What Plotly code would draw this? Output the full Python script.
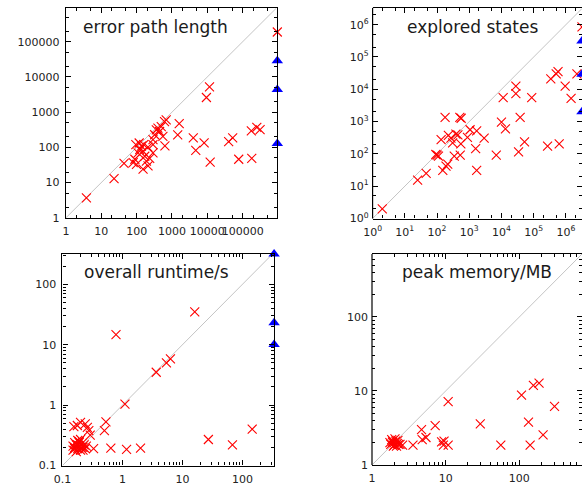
import plotly.graph_objects as go

# ---------------- data ----------------
# error path length (top-left)
epl_x = [3.8, 23, 44, 80, 89, 99, 110, 123, 137, 152, 170, 189, 210, 152, 234, 290,
         95, 118, 159, 210, 290, 323, 360, 400, 446, 497, 615, 553, 685, 290, 630,
         1450, 1600, 4000, 4700, 8100, 9400, 11500, 12000, 40000, 52000, 77000,
         175000, 180000, 250000, 310000]
epl_y = [3.7, 13, 35, 37, 46, 33, 70, 87, 108, 78, 56, 41, 30, 24, 49, 70,
         120, 133, 120, 101, 120, 228, 315, 350, 282, 390, 540, 205, 600, 165, 110,
         225, 470, 185, 82, 135, 2600, 5200, 38, 145, 185, 46,
         295, 49, 370, 320]
epl_timeout = 950000
epl_to_red = [188000]
epl_to_blue = [28500, 4400, 128]

# explored states (top-right)
es_x = [2, 25, 46, 92, 101, 111, 178, 510, 560, 134, 151, 190, 215, 270, 385, 305,
        550, 880, 343, 525, 1060, 1700, 1580, 1700, 2900, 225, 445, 6900, 10000,
        13300, 11300, 28000, 28000, 38000, 34000, 52000, 87000, 270000, 340000,
        500000, 570000, 620000, 950000, 1450000, 2200000]
es_y = [2, 15.5, 25, 96, 92, 86, 1360, 1360, 1270, 276, 31, 42, 48, 310, 410, 220,
        204, 325, 86, 92, 560, 520, 147, 31, 310, 375, 390, 92, 960,
        600, 5500, 12500, 7300, 1360, 116, 235, 5500, 173, 21000,
        30000, 35000, 204, 12600, 5200, 30000]
es_timeout = 3160000
es_to_red = [853000]
es_to_blue = [310000, 29000, 2020]

# overall runtime/s (bottom-left)
rt_x = [16, 0.78, 1.1, 3.65, 5.4, 6.3, 0.53, 0.50, 0.177, 0.20, 0.24, 0.26, 0.275, 0.29,
        0.15, 0.16, 0.17, 0.18, 0.19, 0.20, 0.21, 0.16, 0.18, 0.22, 0.17, 0.19, 0.23,
        0.15, 0.20, 0.24, 0.18, 0.21, 0.25, 0.16, 0.155, 0.19, 0.22,
        0.33, 0.64, 1.17, 2.0, 27, 68, 145]
rt_y = [35, 14.7, 1.04, 3.5, 5.0, 5.8, 0.53, 0.38, 0.46, 0.52, 0.49, 0.43, 0.38, 0.32,
        0.18, 0.20, 0.22, 0.19, 0.21, 0.18, 0.23, 0.24, 0.26, 0.20, 0.17, 0.24, 0.22,
        0.21, 0.27, 0.19, 0.22, 0.20, 0.21, 0.19, 0.44, 0.25, 0.18,
        0.19, 0.195, 0.185, 0.195, 0.27, 0.22, 0.40]
rt_timeout = 336
rt_to_blue = [316, 23.1, 10.1]

# peak memory/MB (bottom-right)
pm_x = [1.8, 1.9, 2.0, 2.1, 1.85, 2.2, 1.95, 2.05, 2.3, 1.75, 2.15, 1.9, 2.4, 2.0, 2.25,
        2.6, 3.6, 4.7, 4.8, 5.4, 7.2, 8.8, 9.3, 10.8, 9.5, 10.8, 29.5, 56,
        107, 155, 185, 133, 210, 140, 300]
pm_y = [1.9, 2.0, 1.85, 2.1, 2.2, 1.95, 1.8, 2.25, 1.9, 2.0, 1.8, 2.1, 1.9, 2.0, 2.15,
        1.85, 1.85, 3.0, 2.2, 2.35, 3.4, 2.05, 1.85, 1.85, 2.1, 7.2, 3.6, 1.85,
        8.8, 11.9, 12.8, 3.8, 2.55, 1.85, 6.2]
pm_timeout = 708
pm_to_red = [174]
pm_to_blue = [121, 26, 9.7]

# axis ranges (log10 units) and tick labels
epl_range = [[0, 5.98], [0, 5.95]]
es_range = [[0, 6.50], [0, 6.52]]
rt_range = [[-1, 2.527], [-1, 2.5]]
pm_range = [[0, 2.85], [0, 2.85]]

epl_ticks = [1, 10, 100, 1000, 10000, 100000]
epl_ticktext = ["1", "10", "100", "1000", "10000", "100000"]
es_ticks = [1, 10, 100, 1000, 10000, 100000, 1000000]
es_ticktext = ["10<sup>%d</sup>" % i for i in range(7)]
rt_ticks = [0.1, 1, 10, 100]
rt_ticktext = ["0.1", "1", "10", "100"]
pm_ticks = [1, 10, 100]
pm_ticktext = ["1", "10", "100"]

# minor tick multipliers per decade
minor_sparse = [2, 5]
minor_dense = [2, 3, 4, 5, 6, 7, 8, 9]

titles = ["error path length", "explored states", "overall runtime/s", "peak memory/MB"]

# ---------------- figure ----------------
W, H = 582, 491
fig = go.Figure()

RED = "#ff0000"
BLUE = "#0000ff"
GRAY = "#c4c4c4"
FONT = "DejaVu Sans"

panels = [
    dict(x=epl_x, y=epl_y, to=epl_timeout, red=epl_to_red, blue=epl_to_blue, rng=epl_range,
         xa="x", ya="y"),
    dict(x=es_x, y=es_y, to=es_timeout, red=es_to_red, blue=es_to_blue, rng=es_range,
         xa="x2", ya="y2"),
    dict(x=rt_x, y=rt_y, to=rt_timeout, red=[], blue=rt_to_blue, rng=rt_range,
         xa="x3", ya="y3"),
    dict(x=pm_x, y=pm_y, to=pm_timeout, red=pm_to_red, blue=pm_to_blue, rng=pm_range,
         xa="x4", ya="y4"),
]

for p in panels:
    lo = 10 ** max(p["rng"][0][0], p["rng"][1][0])
    hi = 10 ** min(p["rng"][0][1], p["rng"][1][1])
    fig.add_trace(go.Scatter(x=[lo, hi], y=[lo, hi], mode="lines",
                             line=dict(color=GRAY, width=1), xaxis=p["xa"], yaxis=p["ya"],
                             hoverinfo="skip", showlegend=False))
    fig.add_trace(go.Scatter(x=p["x"], y=p["y"], mode="markers",
                             marker=dict(symbol="x-thin", size=9,
                                         line=dict(color=RED, width=1.1)),
                             xaxis=p["xa"], yaxis=p["ya"], showlegend=False,
                             cliponaxis=False))
    if p["red"]:
        fig.add_trace(go.Scatter(x=[p["to"]] * len(p["red"]), y=p["red"], mode="markers",
                                 marker=dict(symbol="x-thin", size=9,
                                             line=dict(color=RED, width=1.1)),
                                 xaxis=p["xa"], yaxis=p["ya"], showlegend=False,
                                 cliponaxis=False))
    fig.add_trace(go.Scatter(x=[p["to"]] * len(p["blue"]), y=p["blue"], mode="markers",
                             marker=dict(symbol="triangle-up", size=10, color=BLUE,
                                         line=dict(width=0)),
                             xaxis=p["xa"], yaxis=p["ya"], showlegend=False,
                             cliponaxis=False))


def minor_vals(rng, mults):
    vals = []
    for d in range(int(rng[0]) - 1, int(rng[1]) + 2):
        for m in mults:
            vals.append(m * 10.0 ** d)
    return vals


def mkaxis(domain, rng, anchor, tv, tt, mults, showline=True, standoff=3):
    return dict(type="log", domain=domain, range=rng, anchor=anchor,
                showline=showline, linecolor="black", linewidth=1.2,
                mirror="allticks", ticks="inside", ticklen=5, tickwidth=1,
                tickcolor="black", tickmode="array", tickvals=tv, ticktext=tt,
                tickangle=0,
                showgrid=False, zeroline=False, fixedrange=True,
                ticklabelstandoff=standoff,
                tickfont=dict(family=FONT, size=11, color="#222222"),
                minor=dict(ticks="inside", ticklen=3, tickwidth=1, tickcolor="black",
                           tickmode="array", tickvals=minor_vals(rng, mults),
                           showgrid=False))


dom = {
    "tl": ([57.8 / W, 272.6 / W], [1 - 221.0 / H, 1 - 8.3 / H]),
    "tr": ([369.3 / W, 1.0], [1 - 221.7 / H, 1 - 8.0 / H]),
    "bl": ([54.3 / W, 269.3 / W], [1 - 472.3 / H, 1 - 257.7 / H]),
    "br": ([368.7 / W, 1.0], [1 - 471.7 / H, 1 - 257.7 / H]),
}

fig.update_layout(
    width=W, height=H, margin=dict(l=0, r=0, t=0, b=0),
    paper_bgcolor="white", plot_bgcolor="white", showlegend=False,
    font=dict(family=FONT),
    xaxis=mkaxis(dom["tl"][0], epl_range[0], "y", epl_ticks, epl_ticktext, minor_sparse),
    yaxis=mkaxis(dom["tl"][1], epl_range[1], "x", epl_ticks, epl_ticktext, minor_sparse),
    xaxis2=mkaxis(dom["tr"][0], es_range[0], "y2", es_ticks, es_ticktext, minor_sparse),
    yaxis2=mkaxis(dom["tr"][1], es_range[1], "x2", es_ticks, es_ticktext, minor_sparse,
                  showline=False),
    xaxis3=mkaxis(dom["bl"][0], rt_range[0], "y3", rt_ticks, rt_ticktext, minor_dense),
    yaxis3=mkaxis(dom["bl"][1], rt_range[1], "x3", rt_ticks, rt_ticktext, minor_dense),
    xaxis4=mkaxis(dom["br"][0], pm_range[0], "y4", pm_ticks, pm_ticktext, minor_dense),
    yaxis4=mkaxis(dom["br"][1], pm_range[1], "x4", pm_ticks, pm_ticktext, minor_dense,
                  showline=False),
)

# left frame lines for the right-hand panels (their right edge runs off the page)
for xa, ya in [("x2", "y2"), ("x4", "y4")]:
    fig.add_shape(type="line", xref=xa + " domain", yref=ya + " domain",
                  x0=0, x1=0, y0=0, y1=1, line=dict(color="black", width=1.2))

title_pos = [(0.424, 0.911, "x", "y"), (0.478, 0.911, "x2", "y2"),
             (0.444, 0.916, "x3", "y3"), (0.498, 0.914, "x4", "y4")]
for (tx, ty, xa, ya), t in zip(title_pos, titles):
    fig.add_annotation(text=t, x=tx, y=ty, xref=xa + " domain", yref=ya + " domain",
                       showarrow=False, xanchor="center", yanchor="middle",
                       font=dict(family=FONT, size=17, color="#1a1a1a"))

fig.write_html("out.html", config={"displayModeBar": False},
               post_script="document.body.style.margin='0';document.body.style.overflow='hidden';")
